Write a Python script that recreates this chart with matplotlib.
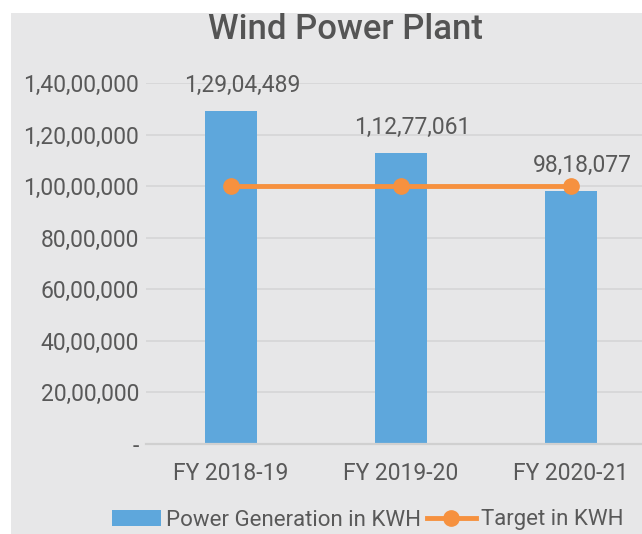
import matplotlib.pyplot as plt
from matplotlib.lines import Line2D
from matplotlib.patches import Patch, Rectangle
from matplotlib.ticker import FuncFormatter

plt.rcParams['font.family'] = ['Roboto', 'DejaVu Sans']

years = ['FY 2018-19', 'FY 2019-20', 'FY 2020-21']
generation = [12904489, 11277061, 9818077]
target = [10000000, 10000000, 10000000]
y_ticks = [0, 2000000, 4000000, 6000000, 8000000, 10000000, 12000000, 14000000]

bar_color = '#5ea7dc'
line_color = '#f6913f'
bg_color = '#e7e7e8'
text_color = '#595959'


def indian_format(v, pos=None):
    # lakh/crore grouping, e.g. 1,29,04,489
    v = int(round(v))
    if v == 0:
        return '-'
    s = str(v)
    last3, rest = s[-3:], s[:-3]
    groups = []
    while len(rest) > 2:
        groups.insert(0, rest[-2:])
        rest = rest[:-2]
    if rest:
        groups.insert(0, rest)
    return ','.join(groups + [last3])


fig = plt.figure(figsize=(6.42, 5.34), dpi=100)
fig.patches.append(Rectangle((11 / 642, 0), 1, 1 - 13 / 534, transform=fig.transFigure,
                             facecolor=bg_color, edgecolor='none', zorder=-10))

ax = fig.add_axes([146 / 642, 90 / 534, 510 / 642, 361 / 534])
ax.set_facecolor('none')

x = range(len(years))
ax.bar(x, generation, width=0.31, color=bar_color, zorder=2)
ax.plot(x, target, color=line_color, lw=3.5, marker='o', markersize=11, zorder=3)

for xi, v in zip(x, generation):
    ax.annotate(indian_format(v), (xi, v), xytext=(8, 18.5), textcoords='offset points',
                ha='center', va='center', fontsize=16.5, color=text_color)

ax.set_xlim(-0.5, 2.5)
ax.set_ylim(0, 14000000)
ax.set_yticks(y_ticks)
ax.yaxis.set_major_formatter(FuncFormatter(indian_format))
ax.set_xticks(list(x))
ax.set_xticklabels(years)
ax.grid(axis='y', color='#d6d6d6', lw=1.2, zorder=0)
ax.set_axisbelow(True)
for side in ['top', 'right', 'left']:
    ax.spines[side].set_visible(False)
ax.spines['bottom'].set_color('#d0d0d0')
ax.spines['bottom'].set_linewidth(1.6)
ax.tick_params(axis='both', length=0, labelsize=16.5, labelcolor=text_color)
ax.tick_params(axis='y', pad=5)
ax.tick_params(axis='x', pad=13)

fig.text(345 / 642, 1 - 39 / 534, 'Wind Power Plant', ha='center', va='baseline',
         fontsize=25, fontweight='medium', color='#545454')

handles = [Patch(facecolor=bar_color),
           Line2D([0], [0], color=line_color, lw=3.5, marker='o', markersize=11)]
fig.legend(handles, ['Power Generation in KWH', 'Target in KWH'], loc='center',
           bbox_to_anchor=(368 / 642, 1 - 520 / 534), ncol=2, frameon=False,
           fontsize=16, labelcolor=text_color, handlelength=2.2, handletextpad=0.25,
           columnspacing=0.25, borderpad=0, borderaxespad=0)

fig.savefig('out.png', dpi=100)
